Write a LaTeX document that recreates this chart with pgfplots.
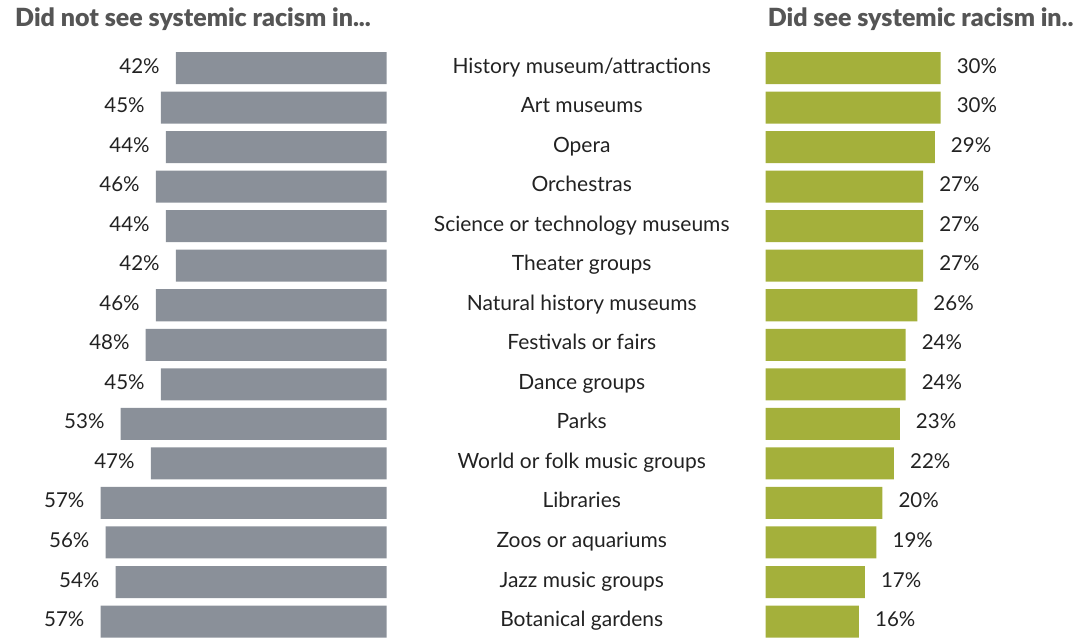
\documentclass[border=0pt]{standalone}
\usepackage{fontspec}
\setmainfont{Lato}
\newfontfamily\titlefont{Lato Black}
\usepackage{pgfplots}
\pgfplotsset{compat=1.18}
\usepackage{pgfplotstable}
\definecolor{barGray}{HTML}{8A9099}
\definecolor{barGreen}{HTML}{A4B03B}
\definecolor{txt}{HTML}{222222}
\definecolor{ttl}{HTML}{555555}

\pgfplotstableread{
k notsee see
0 42 30
1 45 30
2 44 29
3 46 27
4 44 27
5 42 27
6 46 26
7 48 24
8 45 24
9 53 23
10 47 22
11 57 20
12 56 19
13 54 17
14 57 16
}\data

\begin{document}
\begin{tikzpicture}
\useasboundingbox (0pt,0pt) rectangle (1078pt,638pt);
% left axis
\begin{axis}[
  at={(0pt,0pt)}, anchor=south west,
  scale only axis, width=386.7pt, height=638pt,
  xmin=-77.03, xmax=0,
  ymin=-1.7198, ymax=14.4158, y dir=reverse,
  xbar, bar width=32pt, bar shift=0pt,
  axis line style={draw=none}, tick style={draw=none},
  xtick=\empty, ytick=\empty,
  clip=false,
  point meta=explicit symbolic,
  nodes near coords={\pgfplotspointmeta\%},
  every node near coord/.append style={anchor=east, inner sep=0pt, xshift=-16pt,
     text height=14pt, text depth=4pt,
     font=\fontsize{20.5}{24}\selectfont, text=txt},
  title={Did not see systemic racism in...},
  title style={at={(rel axis cs:0.0388,0.9498)}, anchor=base west, inner sep=0pt,
     font=\fontsize{25}{30}\titlefont, text=ttl},
]
\addplot[fill=barGray, draw=none] table[x expr=-\thisrow{notsee}, y=k, meta=notsee] {\data};
\end{axis}
% right axis
\begin{axis}[
  at={(765.7pt,0pt)}, anchor=south west,
  scale only axis, width=312.3pt, height=638pt,
  xmin=0, xmax=53.57,
  ymin=-1.7198, ymax=14.4158, y dir=reverse,
  xbar, bar width=32pt, bar shift=0pt,
  axis line style={draw=none}, tick style={draw=none},
  xtick=\empty,
  ytick={0,...,14},
  yticklabels={History museum/attractions, Art museums, Opera, Orchestras,
    Science or technology museums, Theater groups, Natural history museums,
    Festivals or fairs, Dance groups, Parks, World or folk music groups,
    Libraries, Zoos or aquariums, Jazz music groups, Botanical gardens},
  yticklabel style={anchor=center, inner sep=0pt, xshift=-179.7pt,
     text height=15pt, text depth=5pt,
     font=\fontsize{21}{24}\selectfont, text=txt},
  clip=false,
  point meta=explicit symbolic,
  nodes near coords={\pgfplotspointmeta\%},
  every node near coord/.append style={anchor=west, inner sep=0pt, xshift=16pt,
     text height=14pt, text depth=4pt,
     font=\fontsize{20.5}{24}\selectfont, text=txt},
  title={Did see systemic racism in..},
  title style={at={(rel axis cs:0.006,0.9498)}, anchor=base west, inner sep=0pt,
     font=\fontsize{25}{30}\titlefont, text=ttl},
]
\addplot[fill=barGreen, draw=none] table[x=see, y=k, meta=see] {\data};
\end{axis}
\end{tikzpicture}
\end{document}
